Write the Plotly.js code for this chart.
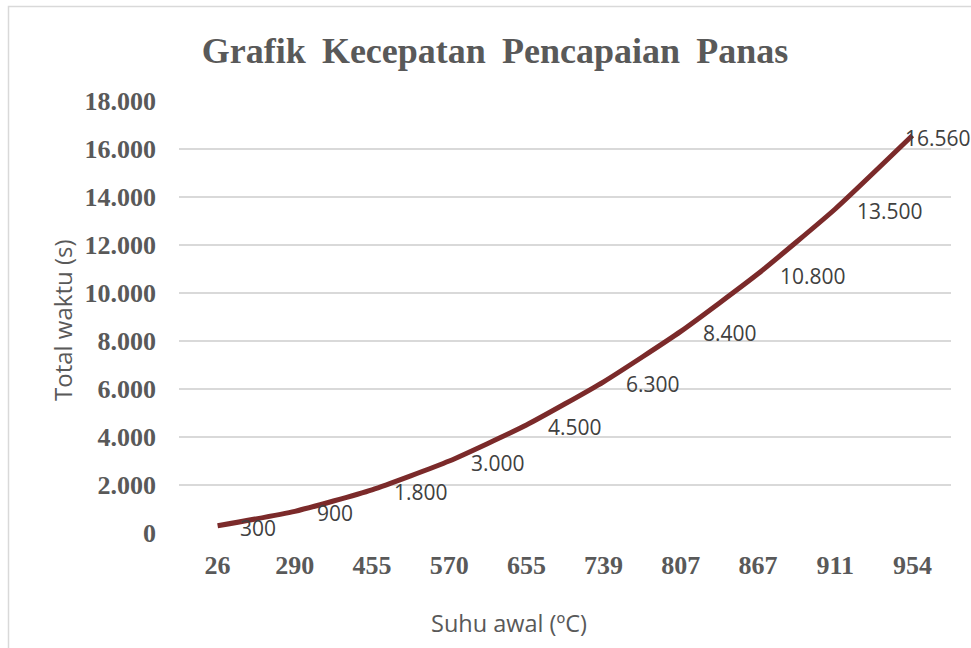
<!DOCTYPE html>
<html>
<head>
<meta charset="utf-8">
<script src="https://cdn.plot.ly/plotly-3.0.1.min.js"></script>
<style>html,body{margin:0;padding:0;background:#fff;}#chart{width:971px;height:648px;}</style>
</head>
<body>
<div id="chart"></div>
<script>
const categories = ['26', '290', '455', '570', '655', '739', '807', '867', '911', '954'];
const totalWaktu = [300, 900, 1800, 3000, 4500, 6300, 8400, 10800, 13500, 16560];
const yTickValues = [0, 2000, 4000, 6000, 8000, 10000, 12000, 14000, 16000, 18000];
const chartTitle = 'Grafik Kecepatan Pencapaian Panas';
const xTitle = 'Suhu awal (ºC)';
const yTitle = 'Total waktu (s)';

function fmt(v) {
  return String(v).replace(/\B(?=(\d{3})+(?!\d))/g, '.');
}

const labelAnnotations = categories.map((c, i) => ({
  x: i, y: totalWaktu[i], xref: 'x', yref: 'y',
  text: fmt(totalWaktu[i]), showarrow: false,
  xanchor: 'left', yanchor: 'middle',
  xshift: i === categories.length - 1 ? -9 : 20, yshift: -2,
  font: {family: '"Open Sans", sans-serif', size: 21, color: '#404040'}
}));

const trace = {
  type: 'scatter', mode: 'lines',
  x: categories, y: totalWaktu,
  line: {color: '#7b2a2a', width: 5, shape: 'spline', smoothing: 0.5},
  hoverinfo: 'skip', cliponaxis: false
};

const L = 179, R = 20, T = 101, B = 115;
const pw = 971 - L - R, ph = 648 - T - B;
const px = v => (v - L) / pw;
const py = v => (648 - B - v) / ph;

const layout = {
  width: 971, height: 648,
  margin: {l: L, r: R, t: T, b: B, pad: 0},
  paper_bgcolor: '#ffffff', plot_bgcolor: '#ffffff',
  separators: ',.',
  showlegend: false,
  title: {
    text: '<b>' + chartTitle.split(' ').join('\u2009 ') + '</b>',
    x: 495 / 971, xref: 'container', xanchor: 'center',
    y: 1 - 50 / 648, yref: 'container', yanchor: 'middle',
    font: {family: '"Liberation Serif", "Times New Roman", serif', size: 36, color: '#595959'}
  },
  xaxis: {
    type: 'category',
    categoryorder: 'array', categoryarray: categories,
    range: [-0.5, categories.length - 0.5],
    showgrid: false, zeroline: false, showline: false,
    ticks: '', ticklabelstandoff: 14,
    tickfont: {family: '"Liberation Serif", "Times New Roman", serif', size: 26, color: '#595959', weight: 'bold'},
    fixedrange: true
  },
  yaxis: {
    range: [0, 18000],
    tickvals: yTickValues,
    ticktext: yTickValues.map(fmt),
    showgrid: true, gridcolor: '#d9d9d9', gridwidth: 1.5,
    zeroline: false, showline: false, ticks: '',
    ticklabelstandoff: 22,
    tickfont: {family: '"Liberation Serif", "Times New Roman", serif', size: 26, color: '#595959', weight: 'bold'},
    fixedrange: true
  },
  annotations: labelAnnotations.concat([
    {text: yTitle, xref: 'paper', yref: 'paper', x: px(62), y: py(320), textangle: -90,
     showarrow: false, xanchor: 'center', yanchor: 'middle',
     font: {family: '"Open Sans", sans-serif', size: 24, color: '#595959'}},
    {text: xTitle, xref: 'paper', yref: 'paper', x: px(509), y: py(623),
     showarrow: false, xanchor: 'center', yanchor: 'middle',
     font: {family: '"Open Sans", sans-serif', size: 23.5, color: '#595959'}}
  ]),
  shapes: [
    {type: 'rect', xref: 'paper', yref: 'paper', x0: px(8.5), x1: px(1020), y0: py(720), y1: py(6.5),
     line: {color: '#d9d9d9', width: 1.5}, fillcolor: 'rgba(0,0,0,0)', layer: 'below'}
  ]
};

Plotly.newPlot('chart', [trace], layout, {displayModeBar: false, staticPlot: true});
</script>
</body>
</html>
